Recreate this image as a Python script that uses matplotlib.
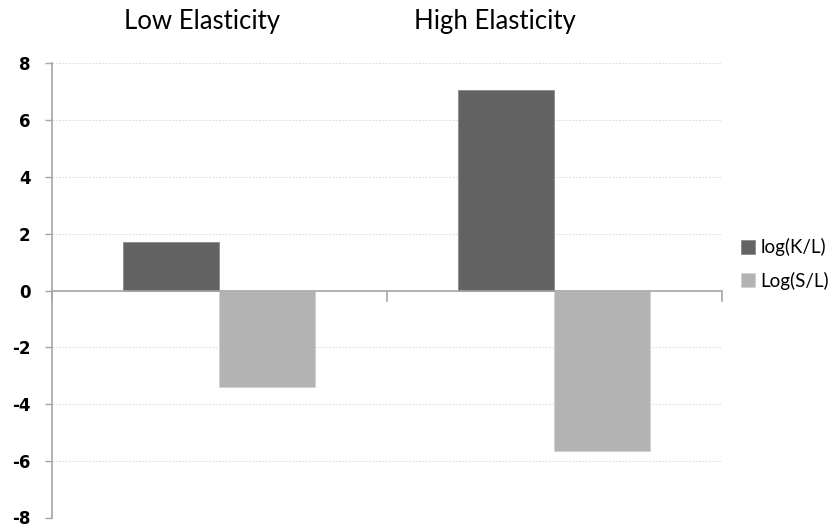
import matplotlib.pyplot as plt
import numpy as np

plt.rcParams['font.family'] = ['Lato', 'DejaVu Sans']

categories = ['Low Elasticity', 'High Elasticity']
series_names = ['log(K/L)', 'Log(S/L)']
log_kl = [1.70, 7.08]
log_sl = [-3.40, -5.65]
yticks = [-8, -6, -4, -2, 0, 2, 4, 6, 8]

colors = ['#636363', '#b3b3b3']

fig = plt.figure(figsize=(8.32, 5.24), dpi=100)
ax = fig.add_axes([51.5 / 832, 1 - 517.5 / 524, (721.5 - 51.5) / 832, (517.5 - 63.5) / 524])

x = np.arange(len(categories))
width = 0.288
for i, (vals, name) in enumerate(zip([log_kl, log_sl], series_names)):
    ax.bar(x + (i - 0.5) * width, vals, width, color=colors[i], label=name,
           edgecolor='#8a8a8a' if i == 0 else '#d0d0d0', linewidth=0.6, zorder=3)

ax.set_xlim(-0.5, 1.5)
ax.set_ylim(-8, 8)
ax.set_yticks(yticks)
ax.set_yticklabels([str(t) for t in yticks], fontsize=12, fontweight='bold',
                   family='DejaVu Sans')
ax.tick_params(axis='y', length=5, color='#a6a6a6', width=1, pad=10)
ax.set_xticks([])

for t in yticks:
    if t != 0:
        ax.axhline(t, color='#dcdcdc', linestyle=(0, (1.5, 1.5)), linewidth=0.8, zorder=1)

# horizontal axis through zero with category boundary ticks
ax.axhline(0, color='#a6a6a6', linewidth=1.2, zorder=4)
for b in [-0.5, 0.5, 1.5]:
    ax.plot([b, b], [0, -0.38], color='#a6a6a6', linewidth=1.2, zorder=4, clip_on=False)

for side in ['top', 'right', 'bottom']:
    ax.spines[side].set_visible(False)
ax.spines['left'].set_color('#a6a6a6')
ax.spines['left'].set_linewidth(1.2)

# category titles above the plot
fig.text(202 / 832, 1 - 22 / 524, categories[0], ha='center', va='center', fontsize=18.5)
fig.text(495 / 832, 1 - 22 / 524, categories[1], ha='center', va='center', fontsize=18.5)

fig.legend(loc='center left', bbox_to_anchor=(733 / 832, 1 - 264 / 524), frameon=False,
           fontsize=13.5, handlelength=0.75, handleheight=0.75, handletextpad=0.3,
           labelspacing=0.8, borderaxespad=0)

fig.savefig('out.png', dpi=100)
